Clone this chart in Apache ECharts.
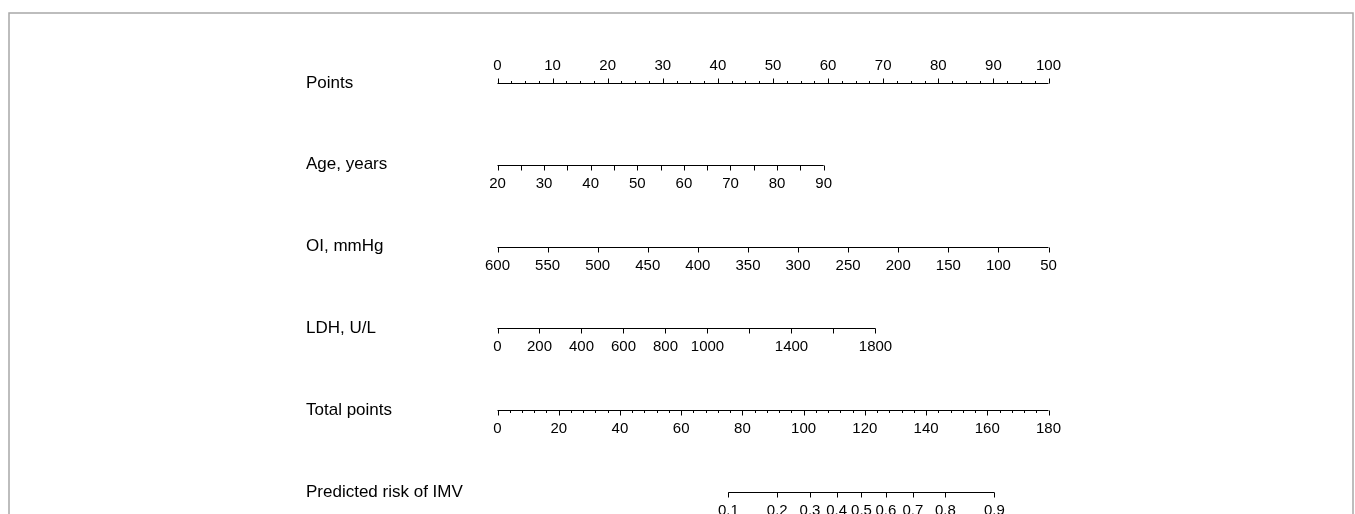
<!DOCTYPE html>
<html><head><meta charset="utf-8">
<script src="https://cdn.jsdelivr.net/npm/echarts@6/dist/echarts.min.js"></script>
<style>html,body{margin:0;padding:0;background:#fff}#c{width:1355px;height:514px}</style>
</head><body><div id="c"></div>
<script>
// ---- data ----
const rowNames = ['Points', 'Age, years', 'OI, mmHg', 'LDH, U/L', 'Total points', 'Predicted risk of IMV'];

const pointsLabels = [0, 10, 20, 30, 40, 50, 60, 70, 80, 90, 100];
const pointsMinorStep = 2.5;

const ageTicks = [20, 25, 30, 35, 40, 45, 50, 55, 60, 65, 70, 75, 80, 85, 90];
const ageLabels = [20, 30, 40, 50, 60, 70, 80, 90];
const ageMaxPoints = 59.2;            // points reached at age 90

const oiTicks = [600, 550, 500, 450, 400, 350, 300, 250, 200, 150, 100, 50];
const oiLabels = [600, 550, 500, 450, 400, 350, 300, 250, 200, 150, 100, 50];

const ldhTicks = [0, 200, 400, 600, 800, 1000, 1200, 1400, 1600, 1800];
const ldhLabels = [0, 200, 400, 600, 800, 1000, 1400, 1800];
const ldhMaxPoints = 68.6;            // points reached at LDH 1800

const totalLabels = [0, 20, 40, 60, 80, 100, 120, 140, 160, 180];
const totalMinorStep = 4;
const totalMax = 180;

const riskLabels = ['0.1', '0.2', '0.3', '0.4', '0.5', '0.6', '0.7', '0.8', '0.9'];
const riskTotalPoints = [75.4, 91.4, 102.1, 110.8, 118.9, 126.9, 135.7, 146.3, 162.3];

// ---- scale mapping to the "Points" scale ----
const mapAge = v => (v - 20) / 70 * ageMaxPoints;
const mapOI = v => (600 - v) / 550 * 100;
const mapLDH = v => v / 1800 * ldhMaxPoints;
const mapTotal = v => v / totalMax * 100;

const items = [];
const data = [];
function addBase(row, a, b) { items.push({ base: true, x1: b }); data.push([a, row]); }
function addTick(row, x, major, label) { items.push({ base: false, major, label }); data.push([x, row]); }

// Points
addBase(0, 0, 100);
for (let v = 0; v <= 100; v += pointsMinorStep) {
  const isLab = pointsLabels.includes(v);
  addTick(0, v, isLab, isLab ? String(v) : '');
}
// Age
addBase(1, mapAge(ageTicks[0]), mapAge(ageTicks[ageTicks.length - 1]));
ageTicks.forEach(v => addTick(1, mapAge(v), true, ageLabels.includes(v) ? String(v) : ''));
// OI
addBase(2, mapOI(oiTicks[0]), mapOI(oiTicks[oiTicks.length - 1]));
oiTicks.forEach(v => addTick(2, mapOI(v), true, oiLabels.includes(v) ? String(v) : ''));
// LDH
addBase(3, mapLDH(ldhTicks[0]), mapLDH(ldhTicks[ldhTicks.length - 1]));
ldhTicks.forEach(v => addTick(3, mapLDH(v), true, ldhLabels.includes(v) ? String(v) : ''));
// Total
addBase(4, 0, mapTotal(totalMax));
for (let v = 0; v <= totalMax; v += totalMinorStep) {
  const isLab = totalLabels.includes(v);
  addTick(4, mapTotal(v), isLab, isLab ? String(v) : '');
}
// Risk
addBase(5, mapTotal(riskTotalPoints[0]), mapTotal(riskTotalPoints[riskTotalPoints.length - 1]));
riskTotalPoints.forEach((t, i) => addTick(5, mapTotal(t), true, riskLabels[i]));

const FONT = '"Liberation Sans", Arial, Helvetica, sans-serif';

const chart = echarts.init(document.getElementById('c'), null, { renderer: 'canvas' });
chart.setOption({
  animation: false,
  backgroundColor: '#fff',
  grid: { left: 497.5, right: 306.5, top: 83, bottom: 22 },
  xAxis: { type: 'value', min: 0, max: 100, show: false },
  yAxis: {
    type: 'category', data: rowNames, inverse: true, boundaryGap: false,
    axisLine: { show: false }, axisTick: { show: false }, splitLine: { show: false },
    axisLabel: {
      align: 'left', margin: 191.5, color: '#000', fontSize: 17, fontFamily: FONT,
      verticalAlign: 'middle', padding: [0, 0, 2, 0]
    }
  },
  graphic: [{
    type: 'rect', shape: { x: 9, y: 13, width: 1344, height: 540 },
    style: { fill: 'none', stroke: '#a8a8a8', lineWidth: 1.5 }, silent: true
  }],
  series: [{
    type: 'custom',
    coordinateSystem: 'cartesian2d',
    data: data,
    encode: { x: 0, y: 1 },
    renderItem: function (params, api) {
      const it = items[params.dataIndex];
      const row = api.value(1);
      const p = api.coord([api.value(0), row]);
      const y = Math.round(p[1]) + 0.5;
      if (it.base) {
        const q = api.coord([it.x1, row]);
        return { type: 'line', shape: { x1: p[0], y1: y, x2: q[0], y2: y },
          style: { stroke: '#000', lineWidth: 1 } };
      }
      const dir = row === 0 ? -1 : 1;
      const len = it.major ? 5 : 2.5;
      const x = Math.round(p[0]) + 0.5;
      const children = [{ type: 'line', shape: { x1: x, y1: y, x2: x, y2: y + dir * len },
        style: { stroke: '#000', lineWidth: 1 } }];
      if (it.label) {
        children.push({ type: 'text', x: p[0], y: y + dir * 18,
          style: { text: it.label, fill: '#000', font: '15px ' + FONT, align: 'center', verticalAlign: 'middle' } });
      }
      return { type: 'group', children };
    }
  }]
});
</script></body></html>
